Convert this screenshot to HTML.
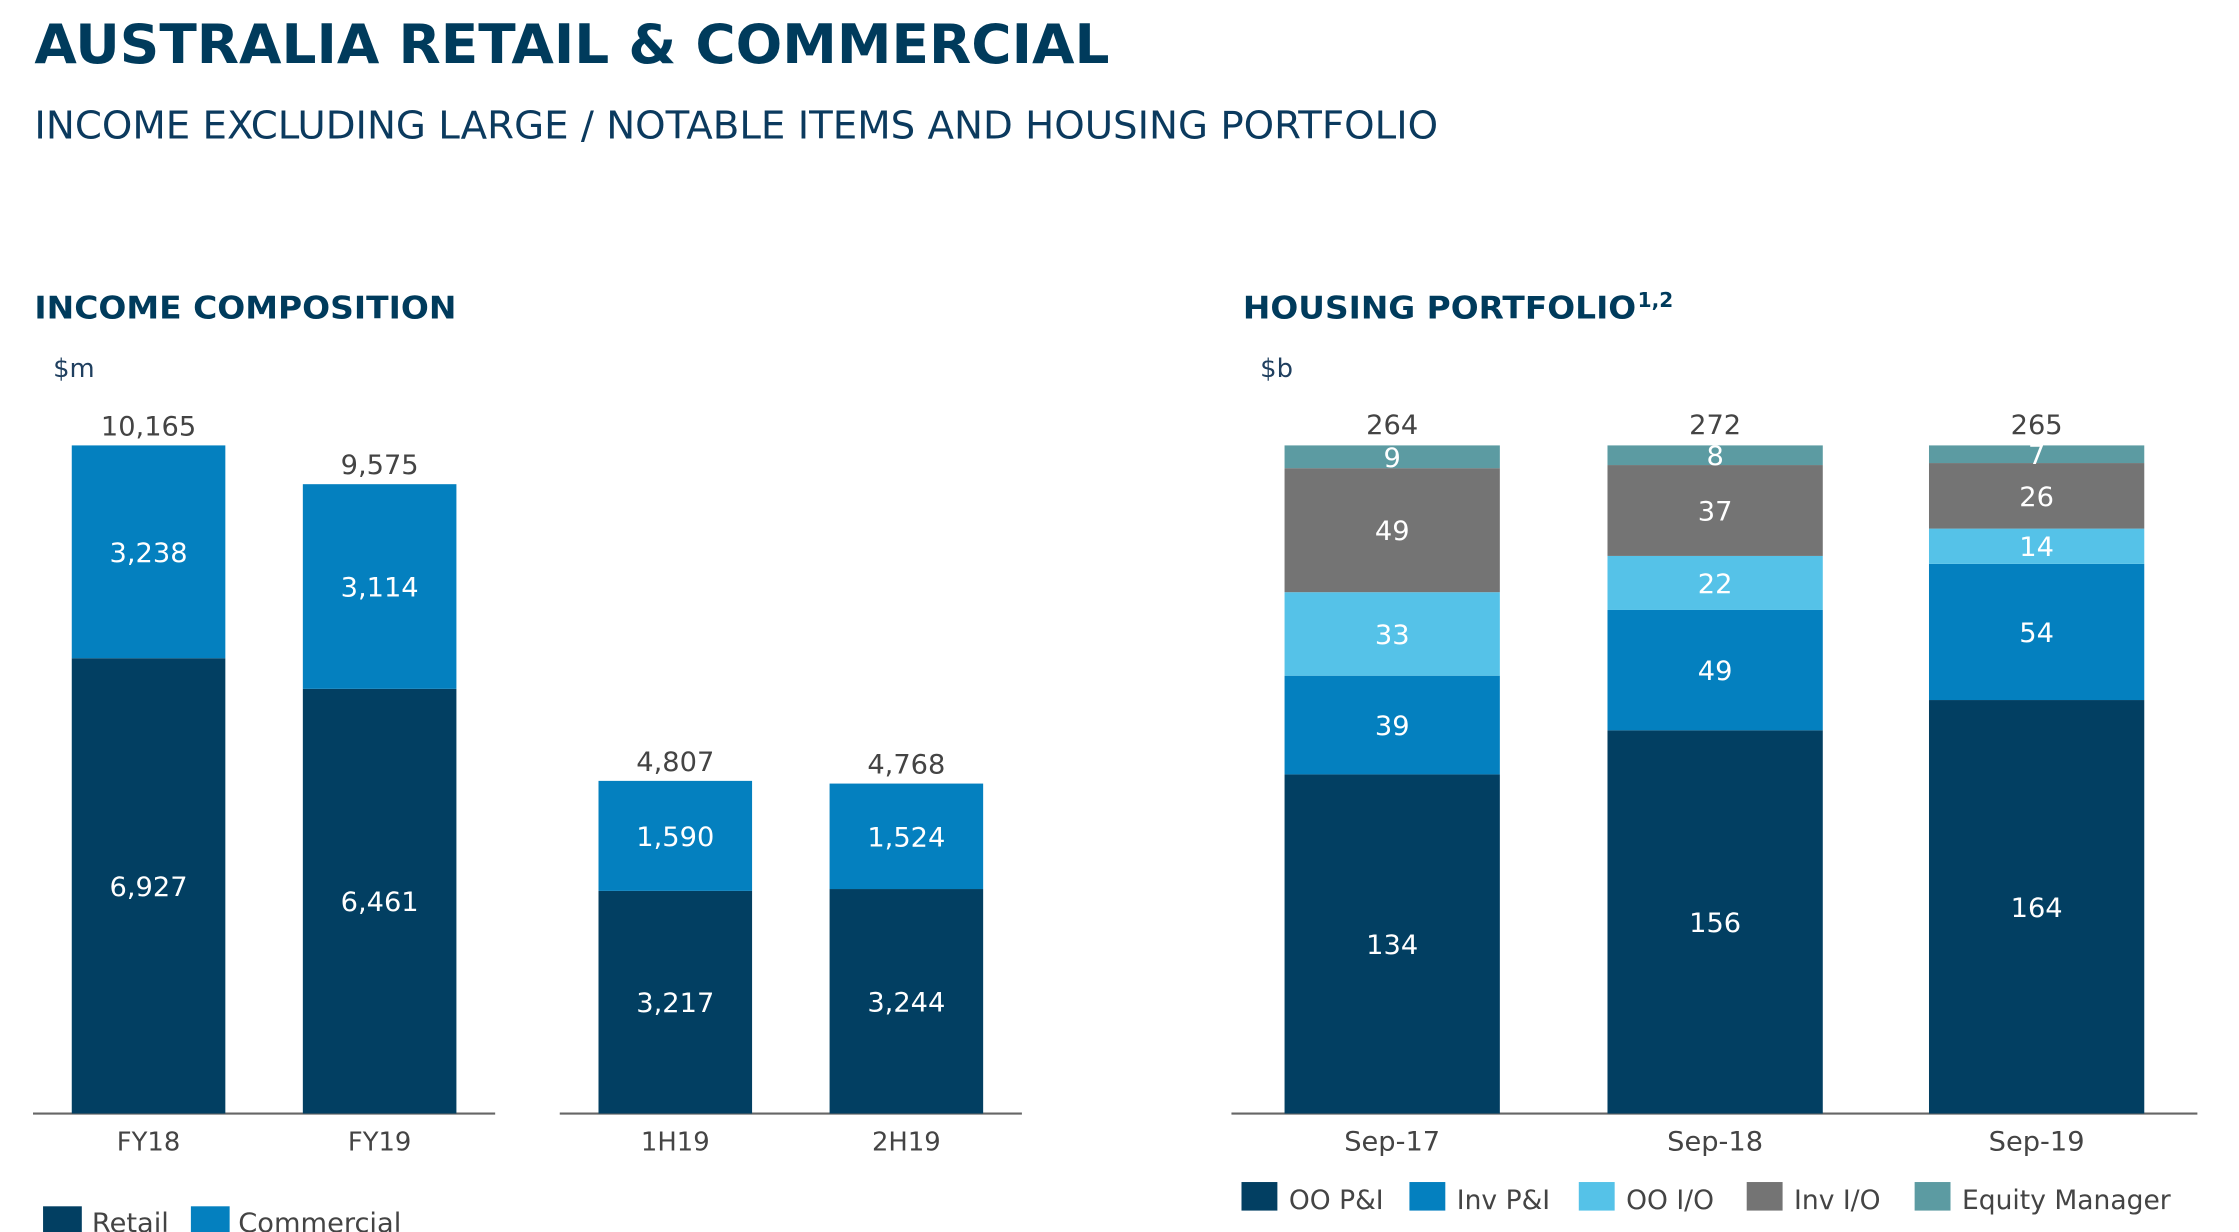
<!DOCTYPE html>
<html><head><meta charset="utf-8">
<style>
html,body{margin:0;padding:0;background:#fff;}
svg{display:block;}
text{font-family:"DejaVu Sans","Liberation Sans",sans-serif;}
</style></head>
<body>
<svg id="chart" width="2239" height="1232" viewBox="0 0 1560 863" preserveAspectRatio="none">
<text x="24" y="44" font-size="38" font-weight="bold" fill="#003b5c" textLength="749" lengthAdjust="spacingAndGlyphs">AUSTRALIA RETAIL &amp; COMMERCIAL</text>
<text x="24" y="97" font-size="27" fill="#0b3a5e" textLength="978" lengthAdjust="spacingAndGlyphs">INCOME EXCLUDING LARGE / NOTABLE ITEMS AND HOUSING PORTFOLIO</text>
<text x="24" y="223" font-size="22" font-weight="bold" fill="#003b5c" textLength="294" lengthAdjust="spacingAndGlyphs">INCOME COMPOSITION</text>
<text x="866" y="223" font-size="22" font-weight="bold" fill="#003b5c" textLength="274" lengthAdjust="spacingAndGlyphs">HOUSING PORTFOLIO</text>
<text x="1141" y="215" font-size="14" font-weight="bold" fill="#003b5c">1,2</text>
<text x="37" y="264" font-size="18" fill="#1f3f5f">$m</text>
<text x="878" y="264" font-size="18" fill="#1f3f5f">$b</text>
<g id="left"></g>
<g id="right"></g>
</svg>
<script>
const incCats = ["FY18","FY19","1H19","2H19"];
const incRetail = [6927,6461,3217,3244];
const incCommercial = [3238,3114,1590,1524];
const incTotals = [10165,9575,4807,4768];
const incSeriesNames = ["Retail","Commercial"];

const hCats = ["Sep-17","Sep-18","Sep-19"];
const hOOPI = [134,156,164];
const hInvPI = [39,49,54];
const hOOIO = [33,22,14];
const hInvIO = [49,37,26];
const hEquity = [9,8,7];
const hTotals = [264,272,265];
const hSeriesNames = ["OO P&I","Inv P&I","OO I/O","Inv I/O","Equity Manager"];

const NS="http://www.w3.org/2000/svg";
function mk(tag, attrs, parent){const e=document.createElementNS(NS,tag);for(const k in attrs)e.setAttribute(k,attrs[k]);parent.appendChild(e);return e;}
function fmt(v){return v.toLocaleString("en-US");}

const BASE=780, PLOT_H=468;
const L=document.getElementById("left");
// full-year group and half-year group use separate scales
const groupMax=[10165,10165,9655,9655];
function yL(v,i){return BASE - v*PLOT_H/groupMax[i];}
const lX=[50,211,417,578], lW=107;
const cNavy="#023f62", cBlue="#0480bf", cLight="#55c2e8", cGrey="#747474", cTeal="#5c9ba2";
let ax=mk("line",{x1:23,y1:780,x2:345,y2:780,stroke:"#666",'stroke-width':1.5},L);


ax=mk("line",{x1:390,y1:780,x2:712,y2:780,stroke:"#666",'stroke-width':1.5},L);


incCats.forEach((c,i)=>{
  const x=lX[i], r=incRetail[i], cm=incCommercial[i];
  let e=mk("rect",{x:x,y:yL(r,i),width:lW,height:BASE-yL(r,i),fill:cNavy},L);
  
  
  e=mk("rect",{x:x,y:yL(r+cm,i),width:lW,height:yL(r,i)-yL(r+cm,i),fill:cBlue},L);
  
  
  const cx=x+lW/2;
  e=mk("text",{x:cx,y:(yL(r,i)+BASE)/2+7,'font-size':19,fill:"#fff",'text-anchor':"middle"},L);e.textContent=fmt(r);
  
  
  e=mk("text",{x:cx,y:(yL(r,i)+yL(r+cm,i))/2+7,'font-size':19,fill:"#fff",'text-anchor':"middle"},L);e.textContent=fmt(cm);
  
  
  e=mk("text",{x:cx,y:yL(incTotals[i],i)-7,'font-size':19,fill:"#444",'text-anchor':"middle"},L);e.textContent=fmt(incTotals[i]);
  
  
  e=mk("text",{x:cx,y:806,'font-size':18,fill:"#444",'text-anchor':"middle"},L);e.textContent=c;
  
  
});
[[30,cNavy,64],[133,cBlue,166]].forEach((p,i)=>{
  let e=mk("rect",{x:p[0],y:845,width:27,height:20,fill:p[1]},L);
  
  
  e=mk("text",{x:p[2],y:863,'font-size':19,fill:"#444"},L);e.textContent=incSeriesNames[i];
  
  
});

const R=document.getElementById("right");
ax=mk("line",{x1:858,y1:780,x2:1531,y2:780,stroke:"#666",'stroke-width':1.5},R);


const rX=[895,1120,1344], rW=150;
const series=[hOOPI,hInvPI,hOOIO,hInvIO,hEquity];
const cols=[cNavy,cBlue,cLight,cGrey,cTeal];
const keys=["oo-pi","inv-pi","oo-io","inv-io","equity"];
hCats.forEach((c,i)=>{
  const tot=series.reduce((s,a)=>s+a[i],0);
  const yR=v=>BASE - v/tot*PLOT_H;
  let cum=0;
  series.forEach((s,k)=>{
    const y0=yR(cum), y1=yR(cum+s[i]);
    let e=mk("rect",{x:rX[i],y:y1,width:rW,height:y0-y1,fill:cols[k]},R);
    
    
    e=mk("text",{x:rX[i]+rW/2,y:(y0+y1)/2+7,'font-size':19,fill:"#fff",'text-anchor':"middle"},R);e.textContent=s[i];
    
    
    cum+=s[i];
  });
  let e=mk("text",{x:rX[i]+rW/2,y:yR(cum)-8,'font-size':19,fill:"#444",'text-anchor':"middle"},R);e.textContent=hTotals[i];
  
  
  e=mk("text",{x:rX[i]+rW/2,y:806,'font-size':19,fill:"#444",'text-anchor':"middle"},R);e.textContent=c;
  
  
});
const lgX=[865,982,1100,1217,1334];
hSeriesNames.forEach((n,k)=>{
  let e=mk("rect",{x:lgX[k],y:828,width:25,height:20,fill:cols[k]},R);
  
  
  e=mk("text",{x:lgX[k]+33,y:847,'font-size':18.5,fill:"#444"},R);e.textContent=n;
  
  
});
</script>
</body></html>
